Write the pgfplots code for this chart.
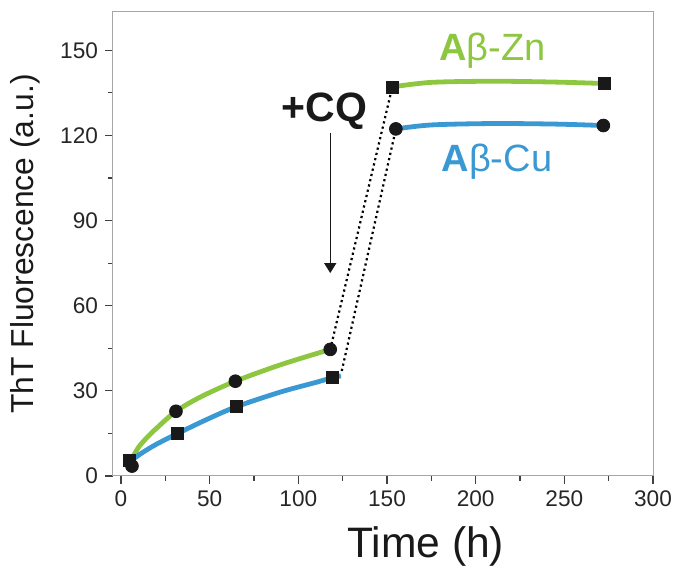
\documentclass[border=0pt]{standalone}
\usepackage{fontspec}
\setmainfont{Liberation Sans}
\usepackage{pgfplots}
\pgfplotsset{compat=1.18}
\usetikzlibrary{arrows.meta}
\definecolor{znGreen}{RGB}{141,198,63}
\definecolor{cuBlue}{RGB}{58,152,210}
\begin{document}
\begin{tikzpicture}
\begin{axis}[
  scale only axis, width=270pt, height=232pt,
  xmin=-4.5, xmax=300, ymin=0, ymax=163.5,
  xtick={0,50,...,300}, ytick={0,30,...,150},
  minor xtick={25,75,...,275}, minor ytick={15,45,...,135},
  tick align=outside, tick pos=left,
  major tick length=4pt, minor tick length=2.5pt,
  axis line style={gray!70, line width=0.5pt},
  tick style={black!75, line width=0.6pt},
  tick label style={font=\fontsize{11.3}{12}\selectfont, text=black!85},
  /pgf/number format/assume math mode=true,
  xlabel={Time (h)},
  xlabel style={font=\fontsize{21.3}{23}\selectfont, text=black!90,
    at={(axis description cs:0.579,-0.1746)}, anchor=base},
  ylabel={ThT Fluorescence (a.u.)},
  ylabel style={font=\fontsize{15.9}{17}\selectfont, text=black!90,
    at={(axis description cs:-0.163,0.5)}, anchor=center},
  clip=false,
]
% fitted growth curves before chelator addition
\addplot[znGreen, line width=2.4pt, smooth] coordinates {
  (6,6) (10,10.2) (15,13.8) (20,16.8) (31,22.8) (45,27.9) (64.5,33.4) (90,39.2) (118,44.6)};
\addplot[cuBlue, line width=2.4pt, smooth] coordinates {
  (7,6) (12,8.2) (20,11.2) (32,15) (48,19.8) (65,24.4) (90,29.6) (110,33) (119,34.6) (124,35.3)};
% plateaus after chelator addition
\addplot[znGreen, line width=2.4pt, smooth] coordinates {
  (153,137.1) (175,138.7) (210,139.1) (245,138.8) (272.6,138.3)};
\addplot[cuBlue, line width=2.4pt, smooth] coordinates {
  (155,122.3) (175,123.7) (210,124.2) (245,124) (272,123.5)};
% jumps
\addplot[black, line width=1.1pt, dash pattern=on 1.1pt off 1.6pt] coordinates {(118,44.6) (153,137.1)};
\addplot[black, line width=1.1pt, dash pattern=on 1.1pt off 1.6pt] coordinates {(124.5,37) (155,122.3)};
% data points
\addplot[only marks, mark=*, mark size=3.2pt, black!90] coordinates {
  (6.2,3.5) (31,22.8) (64.5,33.4) (118,44.6) (155,122.3) (272,123.5)};
\addplot[only marks, mark=square*, mark size=3pt, black!90] coordinates {
  (4.7,5.5) (32,15) (65,24.4) (119,34.6) (153,137.1) (272.6,138.3)};
% addition of CQ
\addplot[black!90, line width=0.7pt, -{Triangle[length=5pt,width=6pt]}] coordinates {(118,121) (118,71.5)};
\node[font=\fontsize{20.5}{22}\selectfont\bfseries, text=black!90, anchor=base] at (axis cs:114.8,124.8) {+CQ};
\node[font=\fontsize{19}{21}\selectfont, text=znGreen, anchor=base] at (axis cs:209.6,146.5) {\textbf{A}β-Zn};
\node[font=\fontsize{19}{21}\selectfont, text=cuBlue, anchor=base] at (axis cs:212,107.3) {\textbf{A}β-Cu};
\end{axis}
\pgfresetboundingbox
\path ([shift={(-56.5pt,-45.5pt)}]current axis.south west) rectangle ([shift={(11pt,6pt)}]current axis.north east);
\end{tikzpicture}
\end{document}
